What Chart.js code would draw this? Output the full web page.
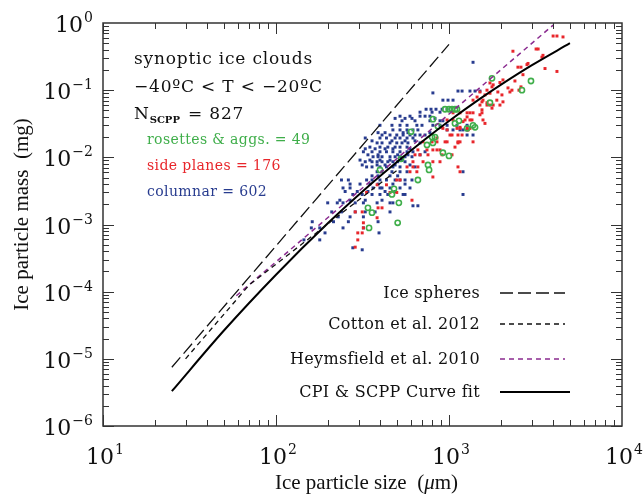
<!DOCTYPE html>
<html>
<head>
<meta charset="utf-8">
<script src="https://cdn.jsdelivr.net/npm/chart.js@4.4.1/dist/chart.umd.min.js"></script>
<style>
	html, body { margin: 0; padding: 0; background: #fff; }
</style>
</head>
<body>
<canvas id="myChart" width="643" height="494"></canvas>
<script>
// axis ranges (log10 decades)
const xExps = [1, 2, 3, 4];
const yExps = [0, -1, -2, -3, -4, -5, -6];

// reference curves: size (um) and mass (mg)
const sphereD = [25, 1000];
const sphereM = [7.5e-6, 0.48];
const cottonD = [30, 70, 500];
const cottonM = [1.0e-5, 1.26e-4, 6.4e-3];
const heymsD = [59, 4000];
const heymsM = [8.7e-5, 0.93];
const fitD = [25, 50, 100, 200, 350, 500, 750, 1000, 1500, 2000, 3000, 5000];
const fitM = [3.3e-6, 2.64e-5, 1.79e-4, 1.05e-3, 3.9e-3, 8.5e-3, 0.0197, 0.0347, 0.0735, 0.121, 0.234, 0.5];

// SCPP particles [size um, mass mg]
const columnar = [
	[1377, 0.26],
	[1127, 0.097], [1190, 0.097], [1322, 0.097], [1414, 0.097], [1510, 0.097],
	[807, 0.091],
	[922, 0.071], [987, 0.071], [1055, 0.071],
	[737, 0.052], [787, 0.052], [841, 0.052], [912, 0.052], [975, 0.052],
	[680, 0.047], [798, 0.047], [887, 0.047],
	[521, 0.041], [595, 0.041], [680, 0.041], [727, 0.041], [776, 0.041],
	[488, 0.038], [557, 0.038], [611, 0.038], [830, 0.038],
	[535, 0.035], [636, 0.035], [776, 0.035], [887, 0.035], [922, 0.035],
	[399, 0.030], [468, 0.030], [521, 0.030], [572, 0.030], [652, 0.030], [698, 0.030], [807, 0.030], [887, 0.030], [975, 0.030], [1112, 0.030], [1272, 0.030],
	[474, 0.0256], [521, 0.0256], [572, 0.0256], [619, 0.0256], [661, 0.0256], [975, 0.0256], [1055, 0.0256], [1158, 0.0256], [1205, 0.0256], [1272, 0.0256],
	[389, 0.0233], [427, 0.0233], [543, 0.0233], [579, 0.0233], [776, 0.0233],
	[410, 0.0215], [456, 0.0215], [499, 0.0215], [543, 0.0215], [595, 0.0215], [636, 0.0215], [680, 0.0215], [727, 0.0215], [1272, 0.0215], [1377, 0.0215],
	[328, 0.0194], [399, 0.0194], [435, 0.0194], [488, 0.0194], [521, 0.0194], [572, 0.0194], [619, 0.0194],
	[359, 0.0176], [468, 0.0176], [557, 0.0176], [636, 0.0176],
	[384, 0.0164], [410, 0.0164], [456, 0.0164], [499, 0.0164], [535, 0.0164], [579, 0.0164], [680, 0.0164],
	[349, 0.0142], [399, 0.0142], [443, 0.0142], [488, 0.0142], [521, 0.0142], [572, 0.0142],
	[328, 0.0134], [374, 0.0134], [427, 0.0134], [474, 0.0134], [595, 0.0134],
	[320, 0.0121], [359, 0.0121], [399, 0.0121], [435, 0.0121], [474, 0.0121], [521, 0.0121], [572, 0.0121], [619, 0.0121], [727, 0.0121],
	[340, 0.0109], [389, 0.0109], [505, 0.0109], [579, 0.0109], [680, 0.0109],
	[364, 0.0102], [389, 0.0102], [410, 0.0102], [456, 0.0102], [488, 0.0102], [521, 0.0102], [557, 0.0102], [611, 0.0102],
	[306, 0.0091], [349, 0.0091], [399, 0.0091], [456, 0.0091], [535, 0.0091],
	[328, 0.0086], [359, 0.0086], [384, 0.0086], [410, 0.0086], [443, 0.0086], [474, 0.0086], [505, 0.0086], [557, 0.0086],
	[315, 0.0077], [384, 0.0077], [427, 0.0077], [488, 0.0077], [595, 0.0077],
	[334, 0.0072], [359, 0.0072], [399, 0.0072], [435, 0.0072], [474, 0.0072], [521, 0.0072], [636, 0.0072],
	[384, 0.0061], [410, 0.0061], [468, 0.0061], [521, 0.0061], [572, 0.0061], [1205, 0.0061],
	[359, 0.0053], [389, 0.0053], [456, 0.0053], [505, 0.0053],
	[239, 0.0046], [262, 0.0046], [334, 0.0046], [359, 0.0046], [399, 0.0046], [435, 0.0046], [488, 0.0046], [521, 0.0046], [557, 0.0046], [611, 0.0046],
	[268, 0.0040], [306, 0.0040], [349, 0.0040], [389, 0.0040], [474, 0.0040], [557, 0.0040],
	[244, 0.0035], [268, 0.0035], [364, 0.0035], [399, 0.0035], [410, 0.0035], [456, 0.0035], [521, 0.0035], [595, 0.0035],
	[251, 0.0031], [295, 0.0031], [340, 0.0031], [427, 0.0031], [488, 0.0031],
	[278, 0.0028], [315, 0.0028], [359, 0.0028], [399, 0.0028], [443, 0.0028], [543, 0.0028], [557, 0.0028], [1205, 0.0028],
	[234, 0.0023], [268, 0.0023], [328, 0.0023], [410, 0.0023],
	[199, 0.0021], [226, 0.0021], [244, 0.0021], [287, 0.0021], [320, 0.0021], [384, 0.0021], [456, 0.0021], [474, 0.0021],
	[619, 0.0019], [661, 0.0019],
	[210, 0.00154], [239, 0.00154], [287, 0.00154], [328, 0.00154], [374, 0.00154], [456, 0.00154],
	[229, 0.0013], [268, 0.0013], [320, 0.0013],
	[162, 0.0011], [215, 0.0011], [262, 0.0011], [389, 0.0011],
	[160, 8.9e-4], [179, 8.9e-4], [244, 8.9e-4], [320, 8.9e-4],
	[192, 7.5e-4], [394, 7.5e-4],
	[145, 5.9e-4], [179, 5.9e-4],
	[278, 4.5e-4], [315, 4.2e-4]
];

const sidePlanes = [
	[3998, 0.64], [4207, 0.64], [4560, 0.62],
	[2342, 0.38], [3187, 0.41], [3275, 0.41], [3493, 0.33], [3445, 0.31], [3589, 0.21], [4207, 0.19],
	[2503, 0.22], [2606, 0.22], [2862, 0.25], [2823, 0.24], [2676, 0.17], [2405, 0.137],
	[2606, 0.112], [2537, 0.10], [2193, 0.108], [2250, 0.094], [2311, 0.10], [2023, 0.085], [1916, 0.094],
	[1725, 0.128], [1772, 0.112], [2051, 0.067], [1890, 0.071], [1510, 0.094], [1614, 0.085], [1572, 0.071],
	[1377, 0.071], [1453, 0.079], [1725, 0.060], [1772, 0.054], [1551, 0.051], [1510, 0.043],
	[1322, 0.046], [1272, 0.040], [1358, 0.036], [1572, 0.036], [1614, 0.032], [1205, 0.034], [1158, 0.028],
	[1290, 0.0256], [1190, 0.0215], [1377, 0.017], [1127, 0.0164], [1083, 0.0142],
	[912, 0.028], [975, 0.0256], [1013, 0.0215], [852, 0.0194], [949, 0.017],
	[2051, 0.142], [1970, 0.13], [1800, 0.12], [1658, 0.10], [1725, 0.09], [1551, 0.067], [1658, 0.065],
	[1510, 0.060], [1658, 0.060], [1800, 0.060], [1970, 0.060],
	[1055, 0.046], [1158, 0.046], [1272, 0.046], [1377, 0.046], [1551, 0.046],
	[975, 0.036], [1055, 0.036], [1238, 0.036], [1322, 0.036],
	[922, 0.027], [1112, 0.027], [1158, 0.027], [1272, 0.027], [1322, 0.027],
	[1041, 0.0215], [1127, 0.0215],
	[708, 0.017], [798, 0.017], [852, 0.017], [975, 0.017], [1127, 0.017], [1158, 0.017],
	[661, 0.0129], [746, 0.0129], [807, 0.0129], [852, 0.0129], [887, 0.0129],
	[636, 0.0109], [680, 0.0109], [756, 0.0109], [912, 0.0109], [1041, 0.0109],
	[619, 0.0086], [708, 0.0086], [807, 0.0086], [887, 0.0086],
	[572, 0.0072], [619, 0.0072], [661, 0.0072], [1127, 0.0072],
	[595, 0.0061], [652, 0.0061], [1158, 0.0061],
	[807, 0.0051], [499, 0.0046], [521, 0.0046], [384, 0.0039], [435, 0.0039],
	[334, 0.0030], [456, 0.0030], [499, 0.0030], [611, 0.0023],
	[389, 0.00177], [410, 0.00177], [287, 0.00154], [315, 0.00154],
	[384, 0.00126], [320, 0.00106], [320, 8.9e-4], [297, 7.5e-4], [315, 7.5e-4], [297, 5.9e-4], [287, 4.6e-4]
];

const rosettes = [
	[1772, 0.15], [2977, 0.137], [2640, 0.10],
	[949, 0.052], [1000, 0.052], [1041, 0.052], [1083, 0.052], [1112, 0.052],
	[1725, 0.065], [807, 0.037], [863, 0.029], [1083, 0.032], [1142, 0.035],
	[1377, 0.030], [1414, 0.028], [1272, 0.027], [603, 0.024],
	[798, 0.020], [830, 0.020], [746, 0.0153], [807, 0.0164],
	[922, 0.0117], [1000, 0.0105], [528, 0.0095], [756, 0.0077], [767, 0.0065],
	[661, 0.0046], [399, 0.0065], [481, 0.0034], [468, 0.0028], [513, 0.0021],
	[359, 0.0015], [345, 8.9e-4], [505, 0.00106], [340, 0.00177]
];

const BLUE = "#283c8f";
const RED = "#e8262b";
const GREEN = "#3fae4a";
const PURPLE = "#8a2a8f";
const SERIF = '"DejaVu Serif", serif';
const TIMES = '"Liberation Serif", serif';

function toPts(ds, ms) {
	return ds.map((d, i) => ({ x: d, y: ms[i] }));
}
function pairPts(arr) {
	return arr.map((p) => ({ x: p[0], y: p[1] }));
}

const lineBase = { showLine: true, pointRadius: 0, fill: false, order: 0 };

const data = {
	datasets: [
		{ ...lineBase, label: "Ice spheres", data: toPts(sphereD, sphereM), borderColor: "#111", borderWidth: 1.3, borderDash: [13, 5] },
		{ ...lineBase, label: "Cotton et al. 2012", data: toPts(cottonD, cottonM), borderColor: "#111", borderWidth: 1.3, borderDash: [5, 4] },
		{ ...lineBase, label: "Heymsfield et al. 2010", data: toPts(heymsD, heymsM), borderColor: PURPLE, borderWidth: 1.5, borderDash: [5, 4] },
		{ ...lineBase, label: "CPI & SCPP Curve fit", data: toPts(fitD, fitM), borderColor: "#000", borderWidth: 2, cubicInterpolationMode: "monotone" },
		{ label: "columnar", data: pairPts(columnar), pointStyle: "rect", pointRadius: 2.1, backgroundColor: BLUE, borderWidth: 0, order: 3 },
		{ label: "side planes", data: pairPts(sidePlanes), pointStyle: "rect", pointRadius: 2.1, backgroundColor: RED, borderWidth: 0, order: 2 },
		{ label: "rosettes", data: pairPts(rosettes), pointStyle: "circle", pointRadius: 2.6, backgroundColor: "rgba(255,255,255,0)", borderColor: GREEN, borderWidth: 1.6, order: 1 },
	],
};

function drawPow(ctx, exp, x, y, align) {
	var base = "10";
	var sup = exp < 0 ? "\u2212" + Math.abs(exp) : String(exp);
	ctx.font = "22px " + SERIF;
	var wb = ctx.measureText(base).width;
	ctx.font = "14px " + SERIF;
	var ws = ctx.measureText(sup).width + 1;
	var x0 = align === "right" ? x - wb - ws : x - (wb + ws) / 2;
	ctx.textAlign = "left";
	ctx.font = "22px " + SERIF;
	ctx.fillText(base, x0, y);
	ctx.font = "14px " + SERIF;
	ctx.fillText(sup, x0 + wb + 1, y - 10);
}

const framePlugin = {
	id: "framePlugin",
	afterDraw(chart) {
		const ctx = chart.ctx;
		const a = chart.chartArea;
		const xs = chart.scales.x;
		const ys = chart.scales.y;
		ctx.save();
		ctx.strokeStyle = "#333";
		ctx.lineWidth = 1.5;
		ctx.strokeRect(a.left, a.top, a.right - a.left, a.bottom - a.top);

		// inward ticks on all four sides
		ctx.lineWidth = 1;
		ctx.beginPath();
		for (let e = xExps[0]; e < xExps[xExps.length - 1]; e++) {
			for (let k = 1; k < 10; k++) {
				const px = Math.round(xs.getPixelForValue(k * Math.pow(10, e))) + 0.5;
				const len = k === 1 ? 11 : 6;
				ctx.moveTo(px, a.bottom); ctx.lineTo(px, a.bottom - len);
				ctx.moveTo(px, a.top); ctx.lineTo(px, a.top + len);
			}
		}
		for (let e = yExps[yExps.length - 1]; e < yExps[0]; e++) {
			for (let k = 1; k < 10; k++) {
				const py = Math.round(ys.getPixelForValue(k * Math.pow(10, e))) + 0.5;
				const len = k === 1 ? 11 : 6;
				ctx.moveTo(a.left, py); ctx.lineTo(a.left + len, py);
				ctx.moveTo(a.right, py); ctx.lineTo(a.right - len, py);
			}
		}
		ctx.stroke();

		// tick labels
		ctx.fillStyle = "#111";
		xExps.forEach((e) => {
			drawPow(ctx, e, xs.getPixelForValue(Math.pow(10, e)) + 2, 464, "center");
		});
		yExps.forEach((e) => {
			drawPow(ctx, e, 93, ys.getPixelForValue(Math.pow(10, e)) + 9, "right");
		});

		// axis titles
		ctx.font = "21px " + TIMES;
		ctx.textAlign = "left";
		const t1 = "Ice particle size  (";
		const t1b = "\u03bc";
		const t1c = "m)";
		const w1 = ctx.measureText(t1).width;
		ctx.font = "italic 21px " + TIMES;
		const w2 = ctx.measureText(t1b).width;
		ctx.font = "21px " + TIMES;
		const w3 = ctx.measureText(t1c).width;
		let tx = (a.left + a.right) / 2 - (w1 + w2 + w3) / 2 + 4;
		ctx.fillText(t1, tx, 489);
		ctx.font = "italic 21px " + TIMES;
		ctx.fillText(t1b, tx + w1, 489);
		ctx.font = "21px " + TIMES;
		ctx.fillText(t1c, tx + w1 + w2, 489);

		ctx.save();
		ctx.translate(28, (a.top + a.bottom) / 2 - 10);
		ctx.rotate(-Math.PI / 2);
		ctx.textAlign = "center";
		ctx.fillText("Ice particle mass  (mg)", 0, 0);
		ctx.restore();

		// annotation block
		ctx.textAlign = "left";
		ctx.letterSpacing = "0.8px";
		ctx.font = "17px " + SERIF;
		ctx.fillText("synoptic ice clouds", 134, 64);
		ctx.fillText("\u221240\u00baC < T < \u221220\u00baC", 134, 92);
		ctx.fillText("N", 134, 119);
		const wn = ctx.measureText("N").width;
		ctx.font = "bold 10px " + SERIF;
		ctx.letterSpacing = "0px";
		ctx.fillText("SCPP", 134 + wn, 123);
		const ws = ctx.measureText("SCPP").width;
		ctx.letterSpacing = "0.8px";
		ctx.font = "17px " + SERIF;
		ctx.fillText(" = 827", 134 + wn + ws + 2, 119);

		ctx.letterSpacing = "0.4px";
		ctx.font = "14px " + SERIF;
		ctx.fillStyle = GREEN;
		ctx.fillText("rosettes & aggs. = 49", 147, 144);
		ctx.fillStyle = RED;
		ctx.fillText("side planes = 176", 147, 170);
		ctx.fillStyle = BLUE;
		ctx.fillText("columnar = 602", 147, 196);

		// legend
		const items = [
			{ ds: 0, y: 293, x2: 565 },
			{ ds: 1, y: 324, x2: 565 },
			{ ds: 2, y: 359, x2: 565 },
			{ ds: 3, y: 392, x2: 570 },
		];
		ctx.letterSpacing = "0.3px";
		ctx.font = "16px " + SERIF;
		ctx.textAlign = "right";
		items.forEach((it) => {
			const ds = chart.data.datasets[it.ds];
			ctx.fillStyle = "#111";
			ctx.fillText(ds.label, 480, it.y + 5);
			ctx.beginPath();
			ctx.strokeStyle = ds.borderColor;
			ctx.lineWidth = ds.borderWidth;
			ctx.setLineDash(ds.borderDash || []);
			ctx.moveTo(500, it.y);
			ctx.lineTo(it.x2, it.y);
			ctx.stroke();
		});
		ctx.letterSpacing = "0px";
		ctx.restore();
	},
};

const chart = new Chart(document.getElementById("myChart").getContext("2d"), {
	type: "scatter",
	data: data,
	options: {
		responsive: false,
		animation: false,
		layout: { padding: { left: 103, right: 21, top: 23, bottom: 68 } },
		plugins: { legend: { display: false }, tooltip: { enabled: false } },
		scales: {
			x: { type: "logarithmic", min: Math.pow(10, xExps[0]), max: Math.pow(10, xExps[xExps.length - 1]), display: false },
			y: { type: "logarithmic", min: Math.pow(10, yExps[yExps.length - 1]), max: Math.pow(10, yExps[0]), display: false },
		},
	},
	plugins: [framePlugin],
});
</script>
</body>
</html>
